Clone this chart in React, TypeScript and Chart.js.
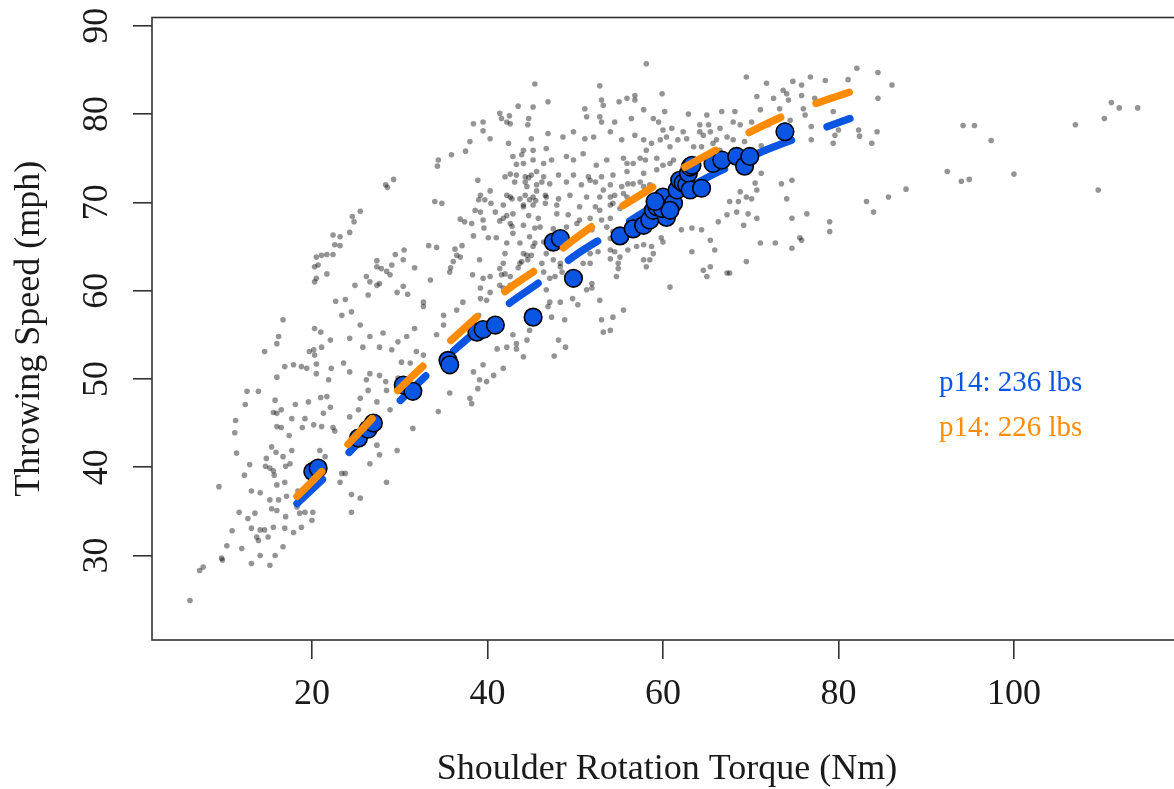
import { useEffect, useRef } from "react";
import { Chart, registerables } from "chart.js";

Chart.register(...registerables);

// ---------- text ----------
const X_LABEL = "Shoulder Rotation Torque (Nm)";
const Y_LABEL = "Throwing Speed (mph)";
const LEGEND_LABELS = ["p14: 236 lbs", "p14: 226 lbs"];

// ---------- axes ----------
const X_TICKS = [20, 40, 60, 80, 100];
const Y_TICKS = [30, 40, 50, 60, 70, 80, 90];
const X_RANGE = [1.77, 119.15];
const Y_RANGE = [20.43, 90.94];

// ---------- fitted curves ----------
const FIT_TORQUE = [18.3, 22, 26, 30, 34, 38, 42, 46, 50, 54, 58, 62, 66, 70, 74, 78, 81.3];
const FIT_SPEED_236 = [35.9, 39.4, 43.5, 47.5, 51.3, 54.8, 58.2, 61.0, 64.0, 66.5, 69.0, 71.2, 73.3, 75.2, 76.8, 78.3, 79.5];
const FIT_SPEED_226 = [36.7, 40.4, 44.6, 48.9, 52.7, 56.3, 59.9, 62.7, 65.9, 68.7, 71.2, 73.7, 75.9, 78.0, 79.9, 81.4, 82.5];

// ---------- p14 throws (torque, speed) ----------
const P14_THROWS: [number, number][] = [
  [20.1, 39.5], [20.7, 39.9], [25.3, 43.3], [26.4, 44.3], [27.0, 45.0], [30.4, 49.3], [31.5, 48.6],
  [35.5, 52.1], [35.7, 51.6], [38.8, 55.3], [39.5, 55.6], [40.9, 56.1], [45.2, 57.0], [47.5, 65.5],
  [48.3, 65.9], [49.8, 61.4], [55.1, 66.2], [56.6, 67.0], [57.8, 67.4], [58.5, 68.0], [58.9, 69.1],
  [59.3, 69.5], [60.4, 68.3], [59.9, 69.3], [60.8, 70.1], [60.0, 70.6], [61.2, 69.9], [60.8, 69.1],
  [59.1, 70.1], [61.6, 71.4], [61.9, 72.5], [62.3, 72.2], [62.7, 72.0], [62.9, 73.3], [63.1, 71.4],
  [63.1, 74.0], [63.3, 74.2], [64.4, 71.6], [65.7, 74.4], [66.7, 74.8], [68.4, 75.2], [69.3, 74.1],
  [69.9, 75.2], [73.9, 78.0],
];

// ---------- all other throws (torque, speed) ----------
const CROWD_LOWER_LEFT: [number, number][] = [
  [6.1, 24.9], [7.2, 28.3], [7.6, 28.7], [9.7, 29.7], [9.8, 29.5], [10.3, 31.1], [10.9, 32.8], [12.0, 30.8],
  [13.1, 29.1], [15.2, 28.9], [14.1, 30.0], [15.8, 30.0], [11.7, 34.9], [12.7, 34.2], [13.5, 34.8], [13.1, 33.1],
  [14.1, 32.9], [14.6, 32.9], [13.7, 32.1], [13.9, 31.7], [15.0, 32.1], [15.6, 33.2], [16.7, 31.0], [16.9, 33.1],
  [17.9, 32.6], [18.8, 33.2], [20.0, 34.0], [19.2, 34.9], [20.1, 34.9], [17.0, 34.4], [15.4, 35.3], [16.0, 35.1],
  [9.4, 37.8], [11.4, 41.6], [11.2, 43.9], [11.3, 45.3], [12.6, 48.6], [13.9, 48.6], [12.4, 47.1], [14.6, 53.1],
  [16.2, 54.8], [16.0, 54.0], [16.7, 56.7], [12.9, 40.3], [13.1, 37.3], [14.1, 37.1], [14.7, 40.1], [14.8, 41.0],
  [15.2, 39.9], [15.6, 39.6], [15.7, 39.1], [16.0, 38.0], [16.7, 41.2], [15.4, 42.3], [15.9, 41.7], [17.0, 40.1],
  [17.5, 40.4], [15.2, 36.3], [16.2, 36.3], [17.1, 36.7], [18.4, 37.3], [18.3, 35.5], [16.9, 38.3], [12.3, 39.1],
  [17.7, 41.9], [17.4, 43.6], [15.6, 46.2], [16.0, 46.1], [16.5, 46.5], [15.8, 47.6], [16.0, 44.6], [16.5, 44.5],
  [18.1, 47.1], [19.2, 45.5], [20.2, 44.8], [19.6, 47.4], [18.9, 44.5], [17.7, 45.5], [21.1, 44.6], [22.4, 44.5],
  [22.6, 44.1], [20.9, 41.9], [21.5, 41.2], [23.4, 39.3], [23.8, 39.3], [23.2, 38.3], [24.5, 36.9], [25.5, 36.5],
  [24.5, 34.9], [18.6, 34.8], [21.3, 46.1], [22.1, 46.8], [21.0, 47.9], [21.7, 48.0], [24.3, 45.7], [25.3, 46.5],
  [25.5, 47.8], [26.4, 48.7], [27.4, 47.4], [28.4, 49.7], [28.9, 46.5], [28.5, 48.7], [26.2, 49.9], [27.7, 50.4],
  [26.6, 50.6], [29.8, 50.1], [31.5, 44.4], [29.7, 41.9], [28.5, 38.3], [27.7, 41.4], [27.4, 42.5], [26.6, 40.4],
];

const CROWD_MID_LEFT: [number, number][] = [
  [34.4, 46.3], [35.7, 48.4], [38.0, 47.8], [38.2, 47.2], [38.9, 48.9], [39.1, 49.9], [39.9, 49.7], [41.8, 51.2],
  [40.7, 50.4], [38.4, 50.8], [39.5, 51.6], [41.1, 53.4], [42.2, 53.6], [43.3, 53.4], [44.1, 52.5], [42.9, 55.0],
  [44.5, 54.4], [35.0, 56.1], [34.2, 55.0], [32.7, 52.7], [31.9, 53.1], [31.2, 51.8], [30.2, 51.9], [27.7, 53.6],
  [29.1, 53.3], [25.8, 53.6], [26.6, 54.8], [28.1, 55.2], [29.8, 54.2], [30.8, 54.8], [31.7, 55.7], [32.7, 58.2],
  [35.0, 57.2], [36.5, 57.8], [39.0, 57.2], [23.4, 57.2], [24.5, 57.6], [25.5, 56.1], [24.3, 54.6], [23.6, 51.8],
  [22.2, 51.2], [24.3, 50.8], [21.9, 49.9], [20.5, 50.6], [21.1, 53.6], [20.2, 53.3], [20.3, 52.7], [19.4, 51.2],
  [16.9, 51.4], [17.9, 51.6], [18.8, 51.4], [22.1, 54.4], [20.3, 55.7], [21.0, 55.3], [19.7, 53.1], [16.0, 50.2],
  [20.5, 51.7],
];

const CROWD_UPPER_LEFT: [number, number][] = [
  [45.4, 83.4], [43.5, 80.9], [45.2, 80.8], [46.9, 81.4], [41.4, 80.1], [42.5, 79.8], [41.6, 79.5], [42.6, 78.9],
  [44.6, 78.8], [38.4, 78.9], [39.5, 79.1], [39.5, 78.1], [40.3, 77.2], [38.0, 76.9], [45.0, 77.2], [46.9, 77.8],
  [35.9, 75.4], [37.5, 75.8], [34.4, 74.8], [34.3, 74.1], [43.9, 75.4], [45.2, 75.9], [46.7, 76.1], [43.3, 74.3],
  [44.1, 74.4], [46.4, 74.4], [42.6, 73.2], [44.3, 72.9], [44.7, 72.8], [45.6, 73.5], [43.1, 72.3], [44.5, 71.8],
  [46.2, 72.3], [38.9, 72.5], [44.3, 70.8], [45.6, 71.3], [46.6, 70.8], [40.3, 71.3], [39.2, 70.8], [39.7, 70.3],
  [39.0, 70.3], [40.4, 69.9], [42.6, 70.6], [42.8, 70.4], [44.8, 70.3], [45.5, 70.2], [44.1, 69.5], [38.6, 69.1],
  [39.2, 68.9], [40.9, 68.9], [42.9, 68.7], [44.7, 68.5], [41.8, 68.2], [42.2, 68.5], [41.4, 67.9], [39.5, 68.0],
  [42.6, 67.6], [42.8, 67.3], [36.9, 68.1], [37.4, 67.8], [38.2, 67.6], [39.6, 67.1], [45.4, 67.1], [40.1, 66.0],
  [41.0, 66.0], [38.4, 66.2], [34.0, 70.1], [34.8, 69.9], [29.3, 72.6], [28.4, 72.0], [28.6, 71.7], [25.5, 69.0],
  [24.6, 68.4], [24.8, 67.8], [22.4, 66.3], [23.2, 66.1], [24.3, 66.6], [22.6, 65.2], [23.2, 65.1], [20.5, 63.8],
  [21.1, 64.0], [21.7, 64.1], [22.4, 64.1], [20.3, 62.7], [20.7, 62.9], [21.7, 61.9], [20.3, 61.0], [20.5, 61.4],
  [24.9, 60.6], [26.2, 61.6], [26.6, 61.0], [27.4, 63.4], [27.4, 62.7], [27.9, 62.5], [28.5, 62.2], [28.9, 61.8],
  [29.5, 64.1], [30.5, 64.6], [30.4, 63.5], [29.1, 62.9], [31.7, 62.6], [27.4, 60.6], [27.7, 60.8], [26.4, 59.5],
  [29.7, 59.8], [30.9, 59.6], [30.4, 60.5], [33.5, 61.2], [33.3, 65.1], [34.2, 64.9], [36.3, 64.7], [37.1, 65.1],
  [36.5, 64.0], [36.9, 63.8], [35.8, 62.6], [35.7, 62.1], [36.1, 63.3], [39.1, 63.5], [38.3, 61.8], [39.5, 61.4],
  [40.3, 61.6], [41.4, 62.5], [41.6, 61.8], [42.0, 61.9], [42.6, 61.6], [43.5, 62.6], [44.5, 64.0], [45.0, 64.0],
  [44.6, 63.5], [43.9, 63.3], [45.4, 65.4], [41.4, 60.6], [41.8, 60.3], [42.6, 60.6], [39.2, 60.3], [40.3, 59.8],
  [39.9, 58.9], [39.2, 59.1], [22.7, 58.8], [23.8, 59.0], [32.7, 58.7], [37.2, 58.7],
];

const CROWD_UPPER_MID: [number, number][] = [
  [58.1, 85.7], [52.8, 83.2], [59.9, 82.3], [69.5, 84.2], [71.8, 83.5], [74.8, 83.7], [76.8, 84.2], [78.5, 83.8],
  [81.1, 83.9], [82.1, 85.2], [84.5, 84.7], [86.1, 83.3], [75.8, 83.3], [73.7, 82.7], [74.1, 82.3], [70.7, 82.0],
  [72.6, 81.8], [74.3, 81.6], [75.8, 82.1], [77.3, 81.8], [84.5, 81.8], [51.1, 80.6], [53.0, 81.6], [53.2, 81.0],
  [55.0, 81.4], [55.9, 81.8], [56.8, 82.1], [56.8, 81.6], [57.8, 80.5], [60.2, 80.3], [62.9, 80.0], [65.0, 79.9],
  [66.7, 80.3], [68.2, 80.3], [71.1, 80.5], [73.3, 80.6], [76.0, 80.6], [76.2, 79.9], [79.4, 80.3], [44.7, 79.5],
  [42.2, 79.1], [51.3, 79.7], [52.8, 79.7], [53.0, 79.1], [54.5, 79.1], [56.4, 79.5], [58.9, 79.5], [59.5, 79.1],
  [60.0, 78.2], [61.0, 78.4], [62.3, 78.0], [64.2, 78.0], [65.4, 78.0], [66.5, 78.4], [64.2, 78.8], [65.2, 78.8],
  [68.0, 79.1], [68.8, 78.8], [70.1, 79.1], [72.0, 78.8], [73.9, 78.8], [74.5, 79.3], [76.9, 78.6], [79.4, 78.8],
  [80.0, 78.2], [82.3, 78.2], [84.4, 78.0], [79.6, 77.6], [83.8, 76.7], [79.4, 76.7], [48.6, 77.4], [49.8, 78.0],
  [51.1, 77.2], [52.1, 77.4], [54.0, 78.0], [55.3, 77.1], [56.8, 77.6], [57.8, 77.1], [58.7, 76.7], [60.4, 77.4],
  [61.7, 77.1], [62.7, 77.2], [63.5, 76.3], [64.4, 76.3], [65.7, 76.7], [68.0, 77.1], [69.3, 76.9], [66.5, 75.9],
  [68.0, 75.9], [71.2, 76.4], [73.3, 76.6], [42.4, 76.7], [44.1, 75.9], [42.9, 75.2], [45.2, 74.8], [47.3, 74.8],
  [49.0, 75.2], [49.8, 74.8], [50.9, 75.5], [52.4, 74.2], [53.6, 74.8], [55.5, 75.0], [55.9, 74.4], [56.6, 74.4],
  [57.4, 75.0], [58.0, 74.8], [59.3, 75.0], [60.0, 74.2], [61.2, 74.8], [76.9, 77.1], [67.3, 77.4], [64.6, 77.6],
  [66.1, 77.1], [60.8, 76.3], [59.7, 77.1], [58.1, 75.9], [60.8, 74.4],
];

const CROWD_CENTER: [number, number][] = [
  [55.9, 73.5], [54.3, 73.1], [53.0, 72.9], [51.5, 72.9], [49.8, 73.1], [48.1, 73.1], [46.4, 72.9], [45.0, 73.1],
  [43.3, 73.1], [42.0, 72.9], [44.3, 72.3], [45.6, 72.0], [47.1, 72.1], [49.0, 72.3], [50.7, 72.0], [52.3, 72.3],
  [54.0, 72.0], [55.3, 71.8], [56.0, 72.1], [56.6, 72.1], [57.4, 72.3], [57.8, 71.8], [58.1, 71.2], [42.2, 70.8],
  [43.7, 70.4], [44.1, 69.7], [45.2, 70.6], [46.7, 70.6], [48.1, 70.4], [49.4, 70.8], [51.3, 70.6], [52.8, 70.6],
  [54.0, 70.6], [54.5, 70.8], [55.9, 70.6], [41.8, 69.7], [45.2, 69.7], [46.6, 69.9], [47.9, 69.7], [50.5, 69.5],
  [52.3, 69.5], [52.8, 69.1], [54.0, 69.7], [55.1, 69.3], [45.8, 68.2], [47.9, 68.7], [49.2, 68.6], [50.5, 68.0],
  [51.7, 68.2], [53.0, 68.0], [54.0, 68.2], [44.1, 67.4], [46.0, 67.2], [47.5, 67.0], [49.0, 67.2], [50.2, 67.6],
  [51.9, 66.9], [53.6, 67.2], [54.3, 66.7], [42.9, 66.5], [44.8, 66.1], [46.4, 65.5], [45.2, 65.0], [43.7, 65.4],
  [42.2, 65.4], [42.0, 64.2], [44.1, 64.2], [46.7, 64.2], [48.3, 62.7], [48.5, 62.1], [50.9, 64.6], [52.1, 65.4],
  [54.0, 65.9], [54.0, 64.6], [56.0, 64.6], [57.0, 65.0], [58.7, 65.0], [60.0, 65.5], [62.1, 66.9], [41.8, 63.1],
  [43.7, 63.1], [46.4, 62.1], [50.9, 63.1], [54.9, 63.1], [54.9, 62.5], [57.8, 63.5], [58.1, 62.7], [46.7, 60.1],
  [46.9, 58.2], [48.3, 58.7], [50.3, 58.4], [51.3, 60.1], [51.9, 60.8], [52.8, 58.9], [53.0, 56.7], [53.2, 55.3],
  [54.3, 57.0], [54.0, 55.5], [55.5, 57.8], [54.7, 61.6], [48.8, 56.7], [48.1, 54.4], [47.3, 57.0], [44.8, 55.5],
  [43.3, 54.0], [55.5, 71.0], [54.3, 69.9], [53.2, 71.4], [51.7, 72.5], [59.3, 73.7], [57.8, 73.3], [58.5, 72.0],
];

const CROWD_LOWER_RIGHT: [number, number][] = [
  [60.8, 60.4], [63.3, 64.4], [64.6, 62.3], [65.4, 62.7], [65.0, 61.6], [67.3, 62.0], [67.6, 62.0], [69.5, 63.3],
  [66.3, 67.8], [68.4, 68.9], [67.3, 68.6], [68.6, 70.1], [69.5, 70.6], [70.7, 71.4], [73.5, 72.1], [74.7, 72.5],
  [74.1, 70.4], [76.4, 68.7], [74.7, 68.2], [71.1, 65.4], [72.8, 65.4], [74.7, 64.8], [75.8, 65.7], [79.0, 67.8],
  [79.0, 66.7], [83.2, 70.1], [84.0, 68.9], [85.7, 70.6], [59.8, 66.0], [58.9, 64.2], [58.5, 63.5], [57.8, 65.2],
  [54.5, 64.4], [55.1, 63.8], [54.0, 63.6], [52.6, 64.4], [51.7, 64.2], [51.9, 60.3], [49.7, 59.1], [47.1, 58.7],
  [48.9, 53.6], [47.6, 52.6], [75.6, 66.0], [46.2, 63.1], [47.5, 63.5], [48.3, 63.1], [47.1, 61.4], [47.7, 61.6],
  [51.7, 63.1], [70.5, 72.2], [71.2, 73.3], [68.8, 71.2], [70.1, 70.4], [67.6, 70.1], [69.7, 68.7], [70.7, 68.2],
  [69.2, 67.4], [64.4, 66.9], [63.3, 67.1], [65.4, 65.7], [65.9, 64.6],
];

const CROWD_FAR_RIGHT: [number, number][] = [
  [82.4, 77.5], [94.2, 78.7], [95.5, 78.7], [97.4, 77.0], [107.0, 78.8], [110.3, 79.5], [111.1, 81.3],
  [112.0, 80.7], [114.1, 80.7], [92.4, 73.5], [94.0, 72.4], [94.9, 72.6], [100.0, 73.2], [109.6, 71.4],
  [87.7, 71.5],
];

const BLUE = "#0B55E3";
const ORANGE = "#FF8C00";
const INK = "#1a1a1a";
const SERIF = '"Liberation Serif", "Times New Roman", Times, serif';

const toXY = (pts: [number, number][]) => pts.map(([x, y]) => ({ x, y }));

export default function App() {
  const ref = useRef<HTMLCanvasElement | null>(null);

  useEffect(() => {
    const canvas = ref.current;
    if (!canvas) return;

    const crowd = [
      ...CROWD_LOWER_LEFT,
      ...CROWD_MID_LEFT,
      ...CROWD_UPPER_LEFT,
      ...CROWD_UPPER_MID,
      ...CROWD_CENTER,
      ...CROWD_LOWER_RIGHT,
      ...CROWD_FAR_RIGHT,
    ];

    const framePlugin = {
      id: "frameAndLegend",
      afterDraw(chart: any) {
        const { ctx, chartArea } = chart;
        const { left, top, right, bottom } = chartArea;
        ctx.save();
        ctx.strokeStyle = "#333";
        ctx.lineWidth = 1.6;
        ctx.strokeRect(left, top, right - left, bottom - top);
        ctx.font = `29px ${SERIF}`;
        ctx.textAlign = "left";
        ctx.textBaseline = "alphabetic";
        ctx.fillStyle = BLUE;
        ctx.fillText(LEGEND_LABELS[0], left + 787, top + 373.5);
        ctx.fillStyle = ORANGE;
        ctx.fillText(LEGEND_LABELS[1], left + 787, top + 418);
        ctx.restore();
      },
    };

    const tickFont = { family: SERIF, size: 36 };
    const grid = {
      display: true,
      drawOnChartArea: false,
      drawTicks: true,
      tickLength: 19,
      color: "#333",
      lineWidth: 1.6,
    };

    const chart = new Chart(canvas, {
      type: "scatter",
      data: {
        datasets: [
          {
            label: "p14 226 fit",
            data: FIT_TORQUE.map((x, i) => ({ x, y: FIT_SPEED_226[i] })),
            showLine: true,
            borderColor: ORANGE,
            backgroundColor: ORANGE,
            borderWidth: 7.5,
            borderDash: [35, 38],
            borderCapStyle: "round",
            cubicInterpolationMode: "monotone",
            pointRadius: 0,
            order: 1,
          },
          {
            label: "p14 throws",
            data: toXY(P14_THROWS),
            pointRadius: 8.8,
            pointBackgroundColor: BLUE,
            pointBorderColor: "#000",
            pointBorderWidth: 1.6,
            order: 2,
          },
          {
            label: "p14 236 fit",
            data: FIT_TORQUE.map((x, i) => ({ x, y: FIT_SPEED_236[i] })),
            showLine: true,
            borderColor: BLUE,
            backgroundColor: BLUE,
            borderWidth: 7.5,
            borderDash: [35, 38],
            borderCapStyle: "round",
            cubicInterpolationMode: "monotone",
            pointRadius: 0,
            order: 3,
          },
          {
            label: "all throws",
            data: toXY(crowd),
            pointRadius: 2.8,
            pointBackgroundColor: "rgba(0,0,0,0.42)",
            pointBorderWidth: 0,
            order: 4,
          },
        ],
      } as any,
      options: {
        animation: false,
        responsive: false,
        devicePixelRatio: 1,
        events: [],
        layout: { padding: { left: 0, top: 17.5, right: 18, bottom: 0 } },
        plugins: { legend: { display: false }, tooltip: { enabled: false } },
        scales: {
          x: {
            type: "linear",
            bounds: "data",
            min: X_RANGE[0],
            max: X_RANGE[1],
            afterBuildTicks: (s: any) => {
              s.ticks = X_TICKS.map((v) => ({ value: v }));
            },
            afterFit: (s: any) => {
              s.height = 149;
              s.paddingLeft = 0;
              s.paddingRight = 0;
            },
            grid,
            border: { display: false },
            ticks: {
              autoSkip: false,
              minRotation: 0,
              maxRotation: 0,
              padding: 13.5,
              color: INK,
              font: tickFont,
              callback: (v: any) => String(v),
            },
            title: {
              display: true,
              text: X_LABEL,
              color: INK,
              font: { family: SERIF, size: 36, lineHeight: 1.1 },
              padding: { top: 0, bottom: 0 },
            },
          },
          y: {
            type: "linear",
            bounds: "data",
            min: Y_RANGE[0],
            max: Y_RANGE[1],
            afterBuildTicks: (s: any) => {
              s.ticks = Y_TICKS.map((v) => ({ value: v }));
            },
            afterFit: (s: any) => {
              s.width = 152;
              s.paddingTop = 0;
              s.paddingBottom = 0;
            },
            grid,
            border: { display: false },
            ticks: {
              autoSkip: false,
              minRotation: 90,
              maxRotation: 90,
              crossAlign: "center",
              padding: 17,
              color: INK,
              font: tickFont,
              callback: (v: any) => String(v),
            },
            title: {
              display: true,
              text: Y_LABEL,
              color: INK,
              font: tickFont,
              padding: { top: 8, bottom: 0 },
            },
          },
        },
      } as any,
      plugins: [framePlugin],
    });

    return () => chart.destroy();
  }, []);

  return (
    <div
      style={{
        position: "fixed",
        left: 0,
        top: 0,
        width: 1174,
        height: 789,
        overflow: "hidden",
        background: "#fff",
      }}
    >
      <canvas ref={ref} width={1200} height={789} style={{ display: "block", width: 1200, height: 789 }} />
    </div>
  );
}
